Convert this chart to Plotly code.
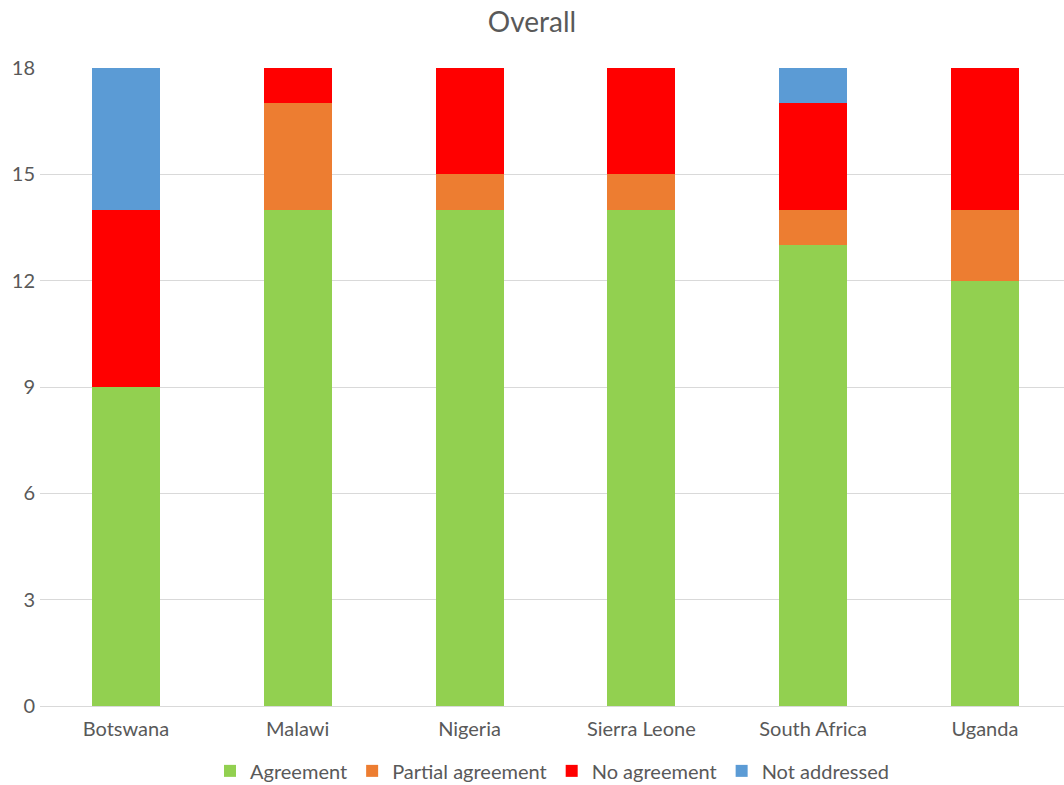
import plotly.graph_objects as go

countries = ["Botswana", "Malawi", "Nigeria", "Sierra Leone", "South Africa", "Uganda"]
agreement = [9, 14, 14, 14, 13, 12]
partial = [0, 3, 1, 1, 1, 2]
no_agreement = [5, 1, 3, 3, 3, 4]
not_addressed = [4, 0, 0, 0, 1, 0]
y_ticks = [0, 3, 6, 9, 12, 15, 18]

series = [
    ("Agreement", agreement, "#92D050"),
    ("Partial agreement", partial, "#ED7D31"),
    ("No agreement", no_agreement, "#FF0000"),
    ("Not addressed", not_addressed, "#5B9BD5"),
]

fig = go.Figure()
for name, vals, color in series:
    fig.add_trace(go.Bar(x=countries, y=vals, name=name, marker=dict(color=color, line=dict(width=0))))

font = "Lato, 'Open Sans', sans-serif"
fig.update_layout(
    barmode="stack",
    bargap=0.604,
    width=1064,
    height=785,
    margin=dict(l=40, r=0, t=68, b=79),
    paper_bgcolor="white",
    plot_bgcolor="white",
    font=dict(family=font, size=20, color="#595959"),
    title=dict(text="Overall", x=0.5, xanchor="center", y=0.972, yanchor="middle",
               font=dict(size=28, color="#595959", family=font)),
    legend=dict(orientation="h", x=0.5, xanchor="center", yref="container", y=0.018,
                yanchor="middle", font=dict(size=20, color="#595959"), itemwidth=30,
                traceorder="normal"),
    xaxis=dict(range=[-0.5, 5.46], showline=True, linecolor="#D9D9D9", linewidth=1, ticks="",
               tickfont=dict(size=20), ticklabelstandoff=5, automargin=False),
    yaxis=dict(range=[0, 18], tickvals=y_ticks, showgrid=True, gridcolor="#D9D9D9", gridwidth=1,
               zeroline=False, ticks="", tickfont=dict(size=20), ticklabelstandoff=4,
               automargin=False),
)

fig.write_html("out.html")
